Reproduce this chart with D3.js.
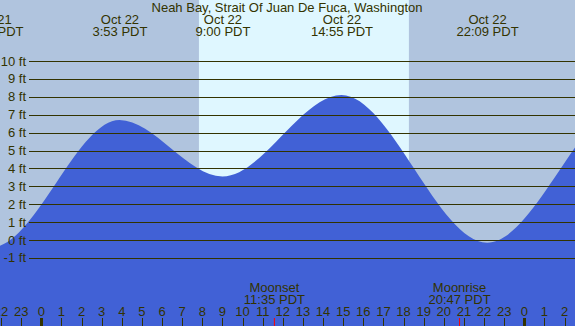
<!DOCTYPE html>
<html>
<head>
<meta charset="utf-8">
<script src="https://cdn.jsdelivr.net/npm/d3@7"></script>
<style>
  body { margin: 0; background: #b0c4de; }
  svg { display: block; }
  text { font-family: "Liberation Sans", Arial, sans-serif; font-size: 13px; fill: #333300; }
</style>
</head>
<body>
<div class="tide_chart"></div>
<script>
// Tide extremes (day offset from Oct 22, local time PDT)
var tideDays  = [-1, -1, 0, 0, 0, 0, 1, 1];
var tideTimes = ["15:10", "21:33", "3:53", "9:00", "14:55", "22:09", "5:20", "10:40"];
var tideFeet  = [7.9, -0.4, 6.7, 3.55, 8.1, -0.15, 7.9, 3.2];
var dayNames  = ["Oct 21", "Oct 22", "Oct 23"];

// Sun and moon events on Oct 22
var sunrise = "7:50", sunset = "18:16";
var moonEvents = ["Moonset", "Moonrise"];
var moonTimes  = ["11:35", "20:47"];

var footTicks = [-1, 0, 1, 2, 3, 4, 5, 6, 7, 8, 9, 10];
var hourTicks = d3.range(-2, 27);

var title = "Neah Bay, Strait Of Juan De Fuca, Washington";

var width = 575, height = 326;

function toHours(t, day) {
    var p = t.split(":");
    return (day || 0) * 24 + (+p[0]) + (+p[1]) / 60;
}

var tide = tideTimes.map(function (t, i) {
    return { h: toHours(t, tideDays[i]), ft: tideFeet[i], time: t, day: dayNames[tideDays[i] + 1] };
});

// scales
var x = d3.scaleLinear().domain([-2.052, 26.52]).range([0, width]);
var y = d3.scaleLinear().domain([-1, 10]).range([257.9, 61]);

var svg = d3.select(".tide_chart").append("svg")
    .attr("width", width)
    .attr("height", height);

// night background, then daylight band
svg.append("rect")
    .attr("width", width).attr("height", height)
    .style("fill", "#b0c4de");

svg.append("rect")
    .attr("x", x(toHours(sunrise)))
    .attr("width", x(toHours(sunset)) - x(toHours(sunrise)))
    .attr("height", height)
    .style("fill", "#dff7ff");

// water
var area = d3.area()
    .x(function (d) { return x(d.h); })
    .y0(height)
    .y1(function (d) { return y(d.ft); })
    .curve(d3.curveMonotoneX);

svg.append("path")
    .datum(tide)
    .attr("d", area)
    .style("fill", "#4161d6");

// gridlines + foot labels
svg.selectAll("line.grid")
    .data(footTicks)
    .enter().append("line")
    .attr("class", "grid")
    .attr("x1", 29).attr("x2", width)
    .attr("y1", function (d) { return Math.round(y(d)) + 0.5; })
    .attr("y2", function (d) { return Math.round(y(d)) + 0.5; })
    .style("stroke", "#333300")
    .style("stroke-width", 1);

svg.selectAll("text.ft")
    .data(footTicks)
    .enter().append("text")
    .attr("class", "ft")
    .attr("x", 26)
    .attr("y", function (d) { return y(d) + 4.5; })
    .attr("text-anchor", "end")
    .text(function (d) { return d + " ft"; });

// title
svg.append("text")
    .attr("x", 287).attr("y", 12)
    .attr("text-anchor", "middle")
    .text(title);

// high / low labels at the top (only the ones near the visible window)
var hl = svg.selectAll("g.hl")
    .data(tide.filter(function (d) { return d.h > -3 && d.h < 27; }))
    .enter().append("g")
    .attr("class", "hl")
    .attr("transform", function (d) { return "translate(" + (x(d.h) + 0.5) + ",0)"; });

hl.append("text")
    .attr("y", 24)
    .attr("text-anchor", "middle")
    .text(function (d) { return d.day; });

hl.append("text")
    .attr("y", 36)
    .attr("text-anchor", "middle")
    .text(function (d) { return d.time + " PDT"; });

// hour axis along the bottom
svg.selectAll("text.hour")
    .data(hourTicks)
    .enter().append("text")
    .attr("class", "hour")
    .attr("x", function (d) { return x(d); })
    .attr("y", 316)
    .attr("text-anchor", "middle")
    .text(function (d) { return ((d % 24) + 24) % 24; });

svg.selectAll("rect.tick")
    .data(hourTicks)
    .enter().append("rect")
    .attr("class", "tick")
    .attr("x", function (d) { return d % 24 === 0 ? Math.round(x(d)) - 1 : Math.round(x(d)); })
    .attr("y", 318)
    .attr("width", function (d) { return d % 24 === 0 ? 3 : 1; })
    .attr("height", 8)
    .style("fill", "#333300");

// moon events
var moon = svg.selectAll("g.moon")
    .data(moonEvents)
    .enter().append("g")
    .attr("class", "moon")
    .attr("transform", function (d, i) { return "translate(" + x(toHours(moonTimes[i])) + ",0)"; });

moon.append("rect")
    .attr("x", -0.5).attr("y", 318)
    .attr("width", 1).attr("height", 8)
    .style("fill", "#ff0000");

moon.append("text")
    .attr("y", 292)
    .attr("text-anchor", "middle")
    .text(function (d) { return d; });

moon.append("text")
    .attr("y", 303.5)
    .attr("text-anchor", "middle")
    .text(function (d, i) { return moonTimes[i] + " PDT"; });
</script>
</body>
</html>
